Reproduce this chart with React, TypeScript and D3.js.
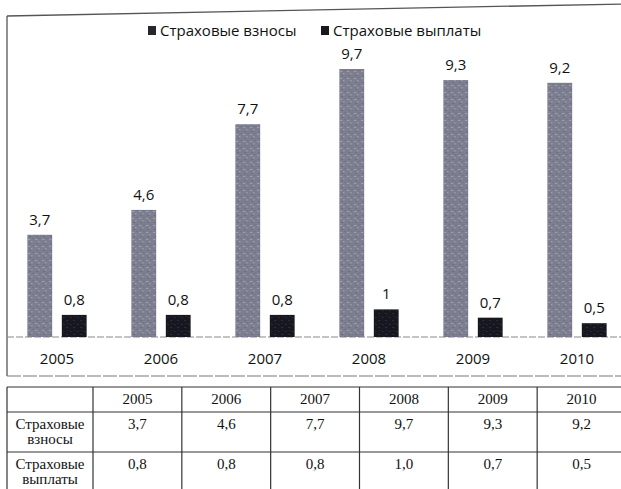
import React from "react";
import * as d3 from "d3";

// chart data
const years = ["2005", "2006", "2007", "2008", "2009", "2010"];
const premiums = [3.7, 4.6, 7.7, 9.7, 9.3, 9.2]; // Страховые взносы
const payouts = [0.8, 0.8, 0.8, 1.0, 0.7, 0.5]; // Страховые выплаты
const seriesNames = ["Страховые взносы", "Страховые выплаты"];
const rowLabels = [
  ["Страховые", "взносы"],
  ["Страховые", "выплаты"],
];

const W = 621;
const H = 489;
const baseY = 337;

const chartFont = "'Open Sans', 'Noto Sans', sans-serif";
const tableFont = "'Liberation Serif', 'Times New Roman', serif";

// chart-label format: 1 -> "1", 3.7 -> "3,7"
const fmtChart = (v: number) => String(v).replace(".", ",");
// table format always keeps one decimal: 1 -> "1,0"
const fmtTable = (v: number) => v.toFixed(1).replace(".", ",");

const App = () => {
  const series = [premiums, payouts];

  // outer scale: year groups
  const x = d3
    .scaleBand()
    .domain(years)
    .range([5, 629])
    .paddingInner(0.43)
    .paddingOuter(0.215);

  // inner scale: the two bars in a group
  const xInner = d3
    .scaleBand()
    .domain(["0", "1"])
    .range([0, x.bandwidth()])
    .paddingInner(0.28);

  const y = d3.scaleLinear().domain([0, 9.7]).range([baseY, 69]);

  // table columns
  const tx = d3.scaleBand().domain(years).range([93, 626]);
  const rowsY = [387, 412, 452, 489];

  const fills = ["url(#patGray)", "url(#patDark)"];
  const legendColors = ["#26262c", "#18181e"];

  // frame top edge is a bit tilted on the scan
  const frameTop = d3.line()([
    [7, 16],
    [W + 2, 4],
  ]);

  return (
    <svg
      width={W}
      height={H}
      style={{ position: "absolute", left: 0, top: 0, background: "#fff" }}
    >
      <defs>
        <pattern id="patGray" width="7" height="7" patternUnits="userSpaceOnUse">
          <rect width="7" height="7" fill="#7d7e90" />
          <rect x="1" y="1" width="1.5" height="1" fill="#aeb0bf" />
          <rect x="4" y="3" width="1" height="1.5" fill="#a3a5b4" />
          <rect x="2" y="5" width="1.5" height="1" fill="#666776" />
          <rect x="5" y="0" width="1" height="1" fill="#696a7a" />
        </pattern>
        <pattern id="patDark" width="7" height="7" patternUnits="userSpaceOnUse">
          <rect width="7" height="7" fill="#17171f" />
          <rect x="1" y="2" width="1" height="1" fill="#3c3d4c" />
          <rect x="4" y="5" width="1.5" height="1" fill="#34354a" />
          <rect x="5" y="1" width="1" height="1" fill="#2b2c38" />
        </pattern>
      </defs>

      {/* chart frame */}
      <path d={frameTop as string} stroke="#555" strokeWidth={1.3} fill="none" />
      <line x1={7} x2={7} y1={16} y2={376} stroke="#555" strokeWidth={1.3} />
      <line x1={7} x2={W} y1={376} y2={376} stroke="#777" strokeWidth={1.2} strokeDasharray="14 2" />

      {/* baseline */}
      <line x1={7} x2={W} y1={baseY} y2={baseY} stroke="#8a8a8a" strokeWidth={1.2} strokeDasharray="7 2" />

      {/* legend */}
      {seriesNames.map((name, i) => {
        const lx = i === 0 ? 148 : 321;
        return (
          <g key={name}>
            <rect x={lx} y={26} width={8} height={9} fill={legendColors[i]} />
            <text
              x={lx + 12}
              y={36}
              fontFamily={chartFont}
              fontSize={15}
              fill="#111"
            >
              {name}
            </text>
          </g>
        );
      })}

      {/* bars + value labels */}
      {years.map((yr, i) => (
        <g key={yr} transform={`translate(${x(yr)},0)`}>
          {series.map((s, k) => {
            const bx = xInner(String(k)) as number;
            const bw = xInner.bandwidth();
            return (
              <g key={k}>
                <rect
                  x={bx}
                  y={y(s[i])}
                  width={bw}
                  height={y(0) - y(s[i])}
                  fill={fills[k]}
                />
                <text
                  x={bx + bw / 2}
                  y={y(s[i]) - 10}
                  textAnchor="middle"
                  fontFamily={chartFont}
                  fontSize={15}
                  fill="#111"
                >
                  {fmtChart(s[i])}
                </text>
              </g>
            );
          })}
          <text
            x={x.bandwidth() / 2}
            y={364}
            textAnchor="middle"
            fontFamily={chartFont}
            fontSize={15}
            fill="#111"
          >
            {yr}
          </text>
        </g>
      ))}

      {/* data table */}
      <g stroke="#333" strokeWidth={1.2}>
        {rowsY.slice(0, 3).map((ry) => (
          <line key={ry} x1={7} x2={W} y1={ry} y2={ry} />
        ))}
        <line x1={7} x2={7} y1={rowsY[0]} y2={H} />
        {years.map((yr) => (
          <line key={yr} x1={tx(yr)} x2={tx(yr)} y1={rowsY[0]} y2={H} />
        ))}
      </g>
      {years.map((yr) => (
        <text
          key={yr}
          x={(tx(yr) as number) + tx.bandwidth() / 2}
          y={404}
          textAnchor="middle"
          fontFamily={tableFont}
          fontSize={15}
          fill="#111"
        >
          {yr}
        </text>
      ))}
      {series.map((s, k) => (
        <g key={k}>
          {rowLabels[k].map((t, j) => (
            <text
              key={t}
              x={50}
              y={rowsY[k + 1] + 17 + j * 15}
              textAnchor="middle"
              fontFamily={tableFont}
              fontSize={15}
              fill="#111"
            >
              {t}
            </text>
          ))}
          {s.map((v, i) => (
            <text
              key={i}
              x={(tx(years[i]) as number) + tx.bandwidth() / 2}
              y={rowsY[k + 1] + 17}
              textAnchor="middle"
              fontFamily={tableFont}
              fontSize={15}
              fill="#111"
            >
              {fmtTable(v)}
            </text>
          ))}
        </g>
      ))}
    </svg>
  );
};

export default App;
